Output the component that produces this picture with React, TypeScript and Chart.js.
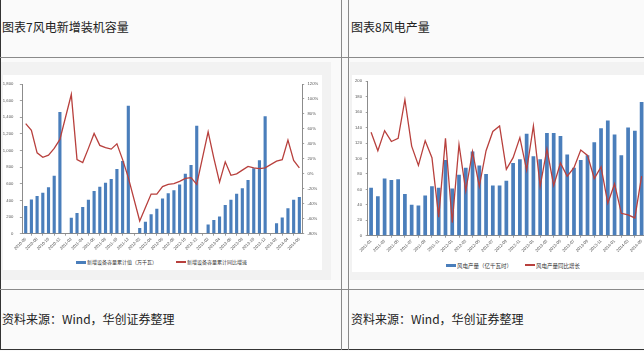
import React, { useEffect, useRef } from 'react';
import { Chart, registerables } from 'chart.js';

Chart.register(...registerables);

// ---------- Left chart: 风电新增装机容量 ----------
const leftMonths = [
  '2010-06', '2010-07', '2010-08', '2010-09', '2010-10', '2010-11', '2010-12',
  '2011-01', '2011-02', '2011-03', '2011-04', '2011-05', '2011-06', '2011-07', '2011-08', '2011-09', '2011-10', '2011-11', '2011-12',
  '2012-01', '2012-02', '2012-03', '2012-04', '2012-05', '2012-06', '2012-07', '2012-08', '2012-09', '2012-10', '2012-11', '2012-12',
  '2013-01', '2013-02', '2013-03', '2013-04', '2013-05', '2013-06', '2013-07', '2013-08', '2013-09', '2013-10', '2013-11', '2013-12',
  '2014-01', '2014-02', '2014-03', '2014-04', '2014-05', '2014-06',
];
const leftCapacity = [
  333, 411, 454, 493, 559, 696, 1463,
  null, 192, 250, 321, 407, 513, 565, 614, 657, 779, 873, 1538,
  null, 70, 145, 235, 301, 423, 485, 524, 591, 720, 826, 1299,
  null, 110, 164, 207, 344, 407, 481, 548, 646, 786, 884, 1412,
  null, 125, 196, 305, 407, 442,
];
const leftGrowth = [
  67, 58, 28, 22, 25, 34, 46,
  null, 106, 19, 15, 34, 54, 38, 35, 33, 40, 19, -5,
  null, -63, -45, -27, -27, -17, -14, -13, -10, -6, -5, -14,
  null, 56, 21, -11, 16, -2, 0, 5, 10, 8, 7, 8,
  null, 17, 19, 45, 18, 8,
];
const leftBarLabel = '新增设备容量累计值（万千瓦）';
const leftLineLabel = '新增设备容量累计同比增速';

// ---------- Right chart: 风电产量 ----------
const rightMonths = [
  '2011-01', '2011-02', '2011-03', '2011-04', '2011-05', '2011-06', '2011-07', '2011-08', '2011-09', '2011-10', '2011-11', '2011-12',
  '2012-01', '2012-02', '2012-03', '2012-04', '2012-05', '2012-06', '2012-07', '2012-08', '2012-09', '2012-10', '2012-11', '2012-12',
  '2013-01', '2013-02', '2013-03', '2013-04', '2013-05', '2013-06', '2013-07', '2013-08', '2013-09', '2013-10', '2013-11', '2013-12',
  '2014-01', '2014-02', '2014-03', '2014-04', '2014-05',
];
const rightOutput = [
  62, 51, 74, 72, 73, 54, 40, 39, 52, 64, 62, 98,
  61, 79, 88, 109, 91, 80, 65, 65, 71, 94, 99, 132,
  103, 99, 133, 133, 129, 105, 88, 98, 104, 121, 139, 149,
  131, 104, 140, 136, 173,
];
const rightGrowth = [
  74, 50, 76, 62, 66, 116, 56, 31, 63, 41, -36, 66,
  -43, 58, -2, 49, 4, 50, 75, 82, 26, 41, 67, 25,
  82, 4, 52, 5, 34, 17, 28, 51, 44, 14, 29, -18,
  7, -31, -33, -37, 17,
];
const rightBarLabel = '风电产量（亿千瓦时）';
const rightLineLabel = '风电产量同比增长';

const BLUE = '#4a7ebb';
const RED = '#b8403d';
const AXIS = '#8c8c8c';
const TICK_COLOR = '#555555';
const tickFont = { family: '"Liberation Sans", Arial, sans-serif', size: 4.2 };

function buildConfig(opts: any): any {
  const {
    labels, bars, line, barLabel, lineLabel, yMax, yStep, y1Min, y1Max,
    leftW, rightW, xH, padTop, yFmt, yPad, yTick,
  } = opts;
  return {
    type: 'bar',
    data: {
      labels,
      datasets: [
        {
          type: 'line', label: lineLabel, data: line, yAxisID: 'y1',
          borderColor: RED, backgroundColor: RED, borderWidth: 1.3,
          pointRadius: 0, spanGaps: true, tension: 0, order: 1,
        },
        {
          type: 'bar', label: barLabel, data: bars, yAxisID: 'y',
          backgroundColor: BLUE, barPercentage: 0.55, categoryPercentage: 1, order: 2,
        },
      ],
    },
    options: {
      responsive: false,
      animation: false,
      devicePixelRatio: 1,
      layout: { padding: { top: padTop, left: 0, right: 0, bottom: 0 } },
      plugins: { legend: { display: false }, tooltip: { enabled: false } },
      scales: {
        x: {
          offset: true,
          grid: { display: true, drawOnChartArea: false, drawTicks: true, tickLength: 2, color: '#a0a0a0', offset: true },
          border: { color: AXIS, width: 1 },
          ticks: {
            autoSkip: false, maxRotation: 45, minRotation: 45, font: tickFont, color: TICK_COLOR, padding: 1,
            callback: (_v: any, i: number) => (i % 2 === 0 ? labels[i] : null),
          },
          afterFit: (s: any) => { s.height = xH; },
        },
        y: {
          position: 'left', min: 0, max: yMax,
          grid: { display: true, drawOnChartArea: false, tickLength: yTick, color: '#a0a0a0' },
          border: { color: AXIS, width: 1 },
          ticks: { stepSize: yStep, font: tickFont, color: TICK_COLOR, padding: yPad, callback: yFmt },
          afterFit: (s: any) => { s.width = leftW; },
        },
        y1: {
          position: 'right', min: y1Min, max: y1Max,
          grid: { display: true, drawOnChartArea: false, tickLength: 2, color: '#a0a0a0' },
          border: { color: AXIS, width: 1 },
          ticks: { stepSize: 20, font: tickFont, color: TICK_COLOR, padding: 3.3, callback: (v: any) => `${v}%` },
          afterFit: (s: any) => { s.width = rightW; },
        },
      },
    },
  };
}

function ChartCanvas({ config, left, top, width, height }: any) {
  const ref = useRef<HTMLCanvasElement>(null);
  useEffect(() => {
    const chart = new Chart(ref.current as HTMLCanvasElement, config);
    return () => chart.destroy();
  }, []);
  return (
    <canvas
      ref={ref}
      width={width}
      height={height}
      style={{ position: 'absolute', left, top, width, height, display: 'block' }}
    />
  );
}

function Legend({ left, top, items, size }: any) {
  return (
    <div style={{ position: 'absolute', left, top, height: 8, display: 'flex', alignItems: 'center', whiteSpace: 'nowrap' }}>
      {items.map((it: any, i: number) => (
        <div key={i} style={{ display: 'flex', alignItems: 'center', marginLeft: i === 0 ? 0 : it.gap }}>
          <div style={{ width: 10, height: it.line ? 1.5 : 3, background: it.color, marginRight: 1 }} />
          <span style={{ fontSize: size * 2, transform: 'scale(0.5)', transformOrigin: 'left center', display: 'inline-block', width: it.w, color: '#333', lineHeight: '8px' }}>{it.text}</span>
        </div>
      ))}
    </div>
  );
}

const line = (style: any) => <div style={{ position: 'absolute', ...style }} />;

export default function App() {
  const leftConfig = buildConfig({
    labels: leftMonths, bars: leftCapacity, line: leftGrowth,
    barLabel: leftBarLabel, lineLabel: leftLineLabel,
    yMax: 1800, yStep: 200, y1Min: -80, y1Max: 120,
    leftW: 19.85, rightW: 19.8, xH: 21.3, padTop: 5.3,
    yFmt: (v: any) => Number(v).toLocaleString('en-US'), yPad: 6.5, yTick: 3,
  });
  const rightConfig = buildConfig({
    labels: rightMonths, bars: rightOutput, line: rightGrowth,
    barLabel: rightBarLabel, lineLabel: rightLineLabel,
    yMax: 200, yStep: 20, y1Min: -60, y1Max: 140,
    leftW: 15.7, rightW: 27, xH: 19.3, padTop: 5,
    yFmt: (v: any) => String(v), yPad: 3.7, yTick: 2,
  });

  const textStyle: any = {
    position: 'absolute', left: 2, fontSize: 12, lineHeight: '16px', color: '#222', whiteSpace: 'nowrap',
  };

  return (
    <div style={{
      position: 'fixed', left: 0, top: 0, width: 644, height: 351, overflow: 'hidden',
      background: '#fafafa', fontFamily: '"Noto Sans CJK SC", sans-serif',
    }}>
      {/* chart image backgrounds */}
      {line({ left: 1, top: 62, width: 330, height: 218, background: '#f2f2f2' })}
      {line({ left: 3, top: 75, width: 319, height: 195, background: '#ffffff' })}
      {line({ left: 350, top: 62, width: 294, height: 218, background: '#f2f2f2' })}
      {line({ left: 352, top: 75, width: 292, height: 197, background: '#ffffff' })}

      <ChartCanvas config={leftConfig} left={3} top={75} width={319} height={180} />
      <ChartCanvas config={rightConfig} left={352} top={75} width={320} height={180} />

      <Legend left={76} top={258} size={5} items={[
        { text: leftBarLabel, color: BLUE, w: 72, gap: 17 },
        { text: leftLineLabel, color: RED, line: true, w: 62, gap: 17 },
      ]} />
      <Legend left={446} top={261} size={5.5} items={[
        { text: rightBarLabel, color: BLUE, w: 56, gap: 12 },
        { text: rightLineLabel, color: RED, line: true, w: 46, gap: 12 },
      ]} />

      {/* table lines */}
      {line({ left: 0, top: 0, width: 1, height: 350, background: '#333' })}
      {line({ left: 0, top: 57, width: 644, height: 1, background: '#8a8a8a' })}
      {line({ left: 0, top: 289, width: 644, height: 1, background: '#8a8a8a' })}
      {line({ left: 0, top: 349, width: 644, height: 1, background: '#333' })}
      {line({ left: 341, top: 0, width: 1, height: 350, background: '#8a8a8a' })}
      {line({ left: 348, top: 0, width: 1, height: 350, background: '#8a8a8a' })}

      <div style={{ ...textStyle, top: 19 }}>图表7风电新增装机容量</div>
      <div style={{ ...textStyle, left: 351, top: 19 }}>图表8风电产量</div>
      <div style={{ ...textStyle, top: 311 }}>资料来源：Wind，华创证券整理</div>
      <div style={{ ...textStyle, left: 351, top: 311 }}>资料来源：Wind，华创证券整理</div>
    </div>
  );
}
